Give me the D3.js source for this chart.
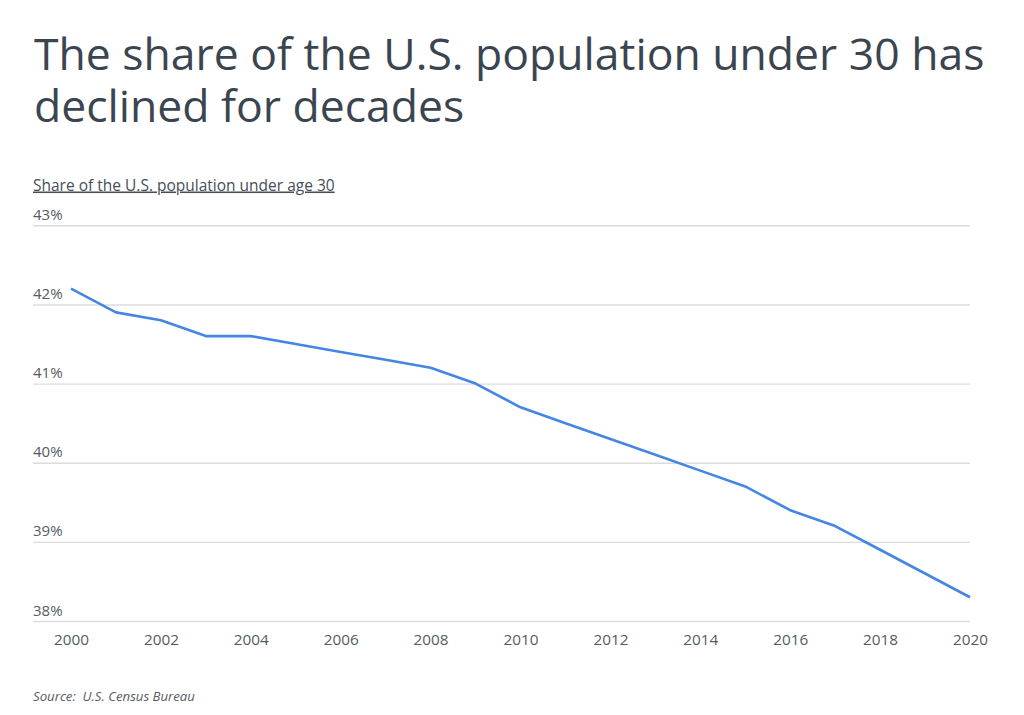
<!DOCTYPE html>
<html>
<head>
<meta charset="utf-8">
<script src="https://cdn.jsdelivr.net/npm/d3@7"></script>
<style>
  body { margin: 0; background: #fff; }
  text { font-family: "Open Sans", sans-serif; white-space: pre; }
</style>
</head>
<body>
<svg id="chart"></svg>
<script>
// data
const years = [2000, 2001, 2002, 2003, 2004, 2005, 2006, 2007, 2008, 2009, 2010,
               2011, 2012, 2013, 2014, 2015, 2016, 2017, 2018, 2019, 2020];
const shareUnder30 = [42.2, 41.9, 41.8, 41.6, 41.6, 41.5, 41.4, 41.3, 41.2, 41.0, 40.7,
                      40.5, 40.3, 40.1, 39.9, 39.7, 39.4, 39.2, 38.9, 38.6, 38.3];
const yTicks = [38, 39, 40, 41, 42, 43];
const xTicks = [2000, 2002, 2004, 2006, 2008, 2010, 2012, 2014, 2016, 2018, 2020];
const titleLines = ["The share of the U.S. population under 30 has", "declined for decades"];
const subtitle = "Share of the U.S. population under age 30";
const source = "Source:  U.S. Census Bureau";

const width = 1024;
const height = 715;
const gridLeft = 33;
const plotLeft = 71;
const plotRight = 970;
const plotTop = 225.3;
const plotBottom = 621;

const svg = d3.select('#chart')
    .attr('width', width)
    .attr('height', height);

// title
svg.append('g')
    .selectAll('text')
    .data(titleLines)
    .join('text')
    .attr('x', 34)
    .attr('y', (d, i) => 70 + i * 52)
    .attr('font-size', 44.5)
    .attr('fill', '#3b4550')
    .text(d => d);

svg.append('text')
    .attr('x', gridLeft)
    .attr('y', 190.5)
    .attr('font-size', 15.5)
    .attr('fill', '#464e57')
    .attr('text-decoration', 'underline')
    .text(subtitle);

let xScale = d3.scaleLinear().domain([2000, 2020]).range([plotLeft, plotRight]);
let yScale = d3.scaleLinear().domain([38, 43]).range([plotBottom, plotTop]);

// gridlines + y labels
let yAxis = d3.axisLeft(yScale)
    .tickValues(yTicks)
    .tickSize(plotRight - gridLeft)
    .tickFormat(d => d + '%');

let yg = svg.append('g')
    .attr('transform', 'translate(' + plotRight + ',0)')
    .call(yAxis);
yg.select('.domain').remove();
yg.selectAll('.tick line')
    .attr('stroke', '#dcdcdc')
    .attr('stroke-width', 1.4);
yg.selectAll('.tick text')
    .attr('x', -(plotRight - gridLeft))
    .attr('dy', -6)
    .attr('text-anchor', 'start')
    .attr('font-size', 15)
    .attr('fill', '#555b62');

// x labels
let xAxis = d3.axisBottom(xScale)
    .tickValues(xTicks)
    .tickSize(0)
    .tickPadding(0)
    .tickFormat(d3.format('d'));

let xg = svg.append('g')
    .attr('transform', 'translate(0,' + plotBottom + ')')
    .call(xAxis);
xg.select('.domain').remove();
xg.selectAll('.tick text')
    .attr('y', 23.5)
    .attr('dy', 0)
    .attr('font-size', 15.3)
    .attr('fill', '#555b62');

// the line
let line = d3.line()
    .x((d, i) => xScale(years[i]))
    .y(d => yScale(d));

svg.append('path')
    .datum(shareUnder30)
    .attr('fill', 'none')
    .attr('stroke', '#4586e3')
    .attr('stroke-width', 2.6)
    .attr('stroke-linejoin', 'round')
    .attr('d', line);

svg.append('text')
    .attr('x', gridLeft)
    .attr('y', 700.5)
    .attr('font-size', 13.2)
    .attr('font-style', 'italic')
    .attr('fill', '#555b62')
    .text(source);
</script>
</body>
</html>
